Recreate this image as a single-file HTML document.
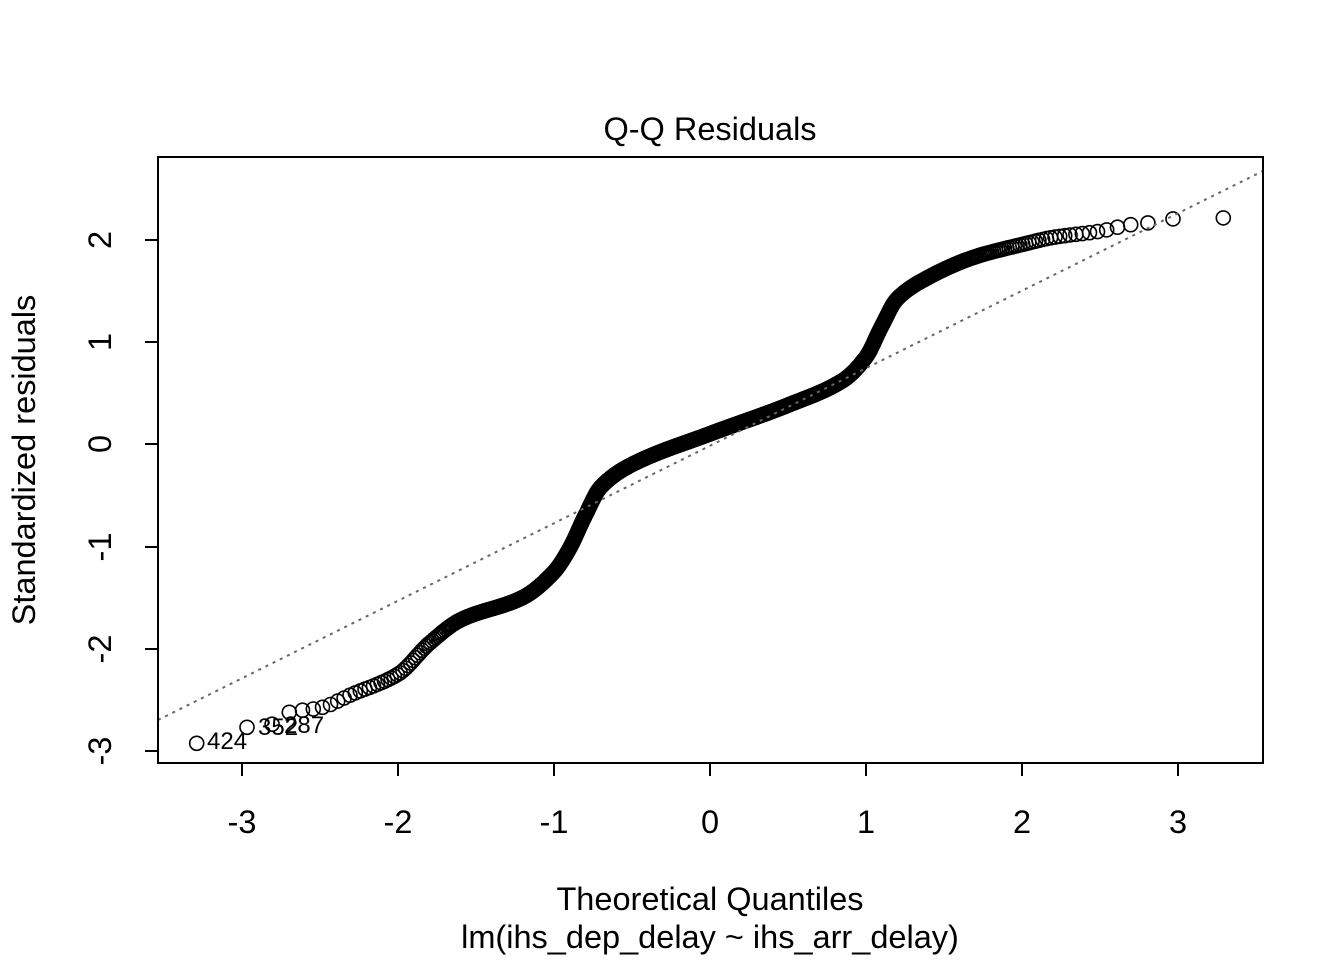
<!DOCTYPE html>
<html><head><meta charset="utf-8"><style>
html,body{margin:0;padding:0;background:#fff;}
svg text{font-family:"Liberation Sans",Arial,sans-serif;fill:#000;}
</style></head><body>
<svg id="s" width="1344" height="960" viewBox="0 0 1344 960" xmlns="http://www.w3.org/2000/svg">
<rect x="0" y="0" width="1344" height="960" fill="#fff"/>
<text x="710" y="140" font-size="32.5" text-anchor="middle">Q-Q Residuals</text>
<g id="pts" fill="none" stroke="#000" stroke-width="1.6"></g>
<line x1="158" y1="720" x2="1263" y2="171" stroke="#666" stroke-width="2" stroke-dasharray="3,5"/>
<text x="207" y="749" font-size="24">424</text>
<text x="258" y="735" font-size="24">352</text>
<text x="284" y="733" font-size="24">287</text>
<rect x="158" y="157" width="1105" height="606" fill="none" stroke="#000" stroke-width="2"/>
<g stroke="#000" stroke-width="2">
<line x1="242" y1="763" x2="1178" y2="763"/>
<line x1="242" y1="763" x2="242" y2="776"/><line x1="398" y1="763" x2="398" y2="776"/><line x1="554" y1="763" x2="554" y2="776"/><line x1="710" y1="763" x2="710" y2="776"/><line x1="866" y1="763" x2="866" y2="776"/><line x1="1022" y1="763" x2="1022" y2="776"/><line x1="1178" y1="763" x2="1178" y2="776"/>
<line x1="158" y1="751" x2="158" y2="240"/>
<line x1="145" y1="751" x2="158" y2="751"/><line x1="145" y1="649" x2="158" y2="649"/><line x1="145" y1="547" x2="158" y2="547"/><line x1="145" y1="444" x2="158" y2="444"/><line x1="145" y1="342" x2="158" y2="342"/><line x1="145" y1="240" x2="158" y2="240"/>
</g>
<g font-size="32.5" text-anchor="middle">
<text x="242" y="833">-3</text><text x="398" y="833">-2</text><text x="554" y="833">-1</text><text x="710" y="833">0</text><text x="866" y="833">1</text><text x="1022" y="833">2</text><text x="1178" y="833">3</text>
<text transform="translate(111,751) rotate(-90)">-3</text>
<text transform="translate(111,649) rotate(-90)">-2</text>
<text transform="translate(111,547) rotate(-90)">-1</text>
<text transform="translate(111,444) rotate(-90)">0</text>
<text transform="translate(111,342) rotate(-90)">1</text>
<text transform="translate(111,240) rotate(-90)">2</text>
<text transform="translate(35,460) rotate(-90)">Standardized residuals</text>
<text x="710" y="910">Theoretical Quantiles</text>
<text x="710" y="948">lm(ihs_dep_delay ~ ihs_arr_delay)</text>
</g>
</svg>
<script>
function qnorm(p){var a=[-39.69683028665376,220.9460984245205,-275.9285104469687,138.3577518672690,-30.66479806614716,2.506628277459239],b=[-54.47609879822406,161.5858368580409,-155.6989798598866,66.80131188771972,-13.28068155288572],c=[-0.007784894002430293,-0.3223964580411365,-2.400758277161838,-2.549732539343734,4.374664141464968,2.938163982698783],d=[0.007784695709041462,0.3224671290700398,2.445134137142996,3.754408661907416],q,r;
if(p<0.02425){q=Math.sqrt(-2*Math.log(p));return(((((c[0]*q+c[1])*q+c[2])*q+c[3])*q+c[4])*q+c[5])/((((d[0]*q+d[1])*q+d[2])*q+d[3])*q+1);}
if(p>1-0.02425){q=Math.sqrt(-2*Math.log(1-p));return-(((((c[0]*q+c[1])*q+c[2])*q+c[3])*q+c[4])*q+c[5])/((((d[0]*q+d[1])*q+d[2])*q+d[3])*q+1);}
q=p-0.5;r=q*q;return(((((a[0]*r+a[1])*r+a[2])*r+a[3])*r+a[4])*r+a[5])*q/(((((b[0]*r+b[1])*r+b[2])*r+b[3])*r+b[4])*r+1);}
var K=[[-3.3,-2.93],[-2.97,-2.77],[-2.81,-2.74],[-2.69,-2.62],[-2.5,-2.58],[-2.3,-2.45],[-2.0,-2.25],[-1.8,-1.95],[-1.6,-1.72],[-1.2,-1.5],[-1.0,-1.25],[-0.9,-1.02],[-0.8,-0.7],[-0.7,-0.42],[-0.5,-0.2],[0,0.1],[0.5,0.38],[0.85,0.62],[1.0,0.85],[1.1,1.15],[1.2,1.42],[1.4,1.63],[1.7,1.83],[2.0,1.95],[2.2,2.02],[2.5,2.08],[2.68,2.14],[2.8,2.16],[2.96,2.2],[3.3,2.21]];
var N=K.length,xs=K.map(k=>k[0]),ys=K.map(k=>k[1]),dl=[],m=[];
for(var i=0;i<N-1;i++)dl.push((ys[i+1]-ys[i])/(xs[i+1]-xs[i]));
m[0]=dl[0];m[N-1]=dl[N-2];
for(var i=1;i<N-1;i++){m[i]=(dl[i-1]*dl[i]<=0)?0:2/(1/dl[i-1]+1/dl[i]);}
function f(q){for(var i=1;i<N;i++){if(q<=xs[i]||i==N-1){var h=xs[i]-xs[i-1],t=(q-xs[i-1])/h;t=Math.max(0,Math.min(1,t));var t2=t*t,t3=t2*t;
return(2*t3-3*t2+1)*ys[i-1]+(t3-2*t2+t)*h*m[i-1]+(-2*t3+3*t2)*ys[i]+(t3-t2)*h*m[i];}}}
var g=document.getElementById('pts'),n=1000,s='';
for(var i=1;i<=n;i++){var q=qnorm((i-0.5)/n);var x=710+156*q,y=444-102.3*f(q);s+='<circle cx="'+x.toFixed(1)+'" cy="'+y.toFixed(1)+'" r="7"/>';}
g.innerHTML=s;
</script>
</body></html>
